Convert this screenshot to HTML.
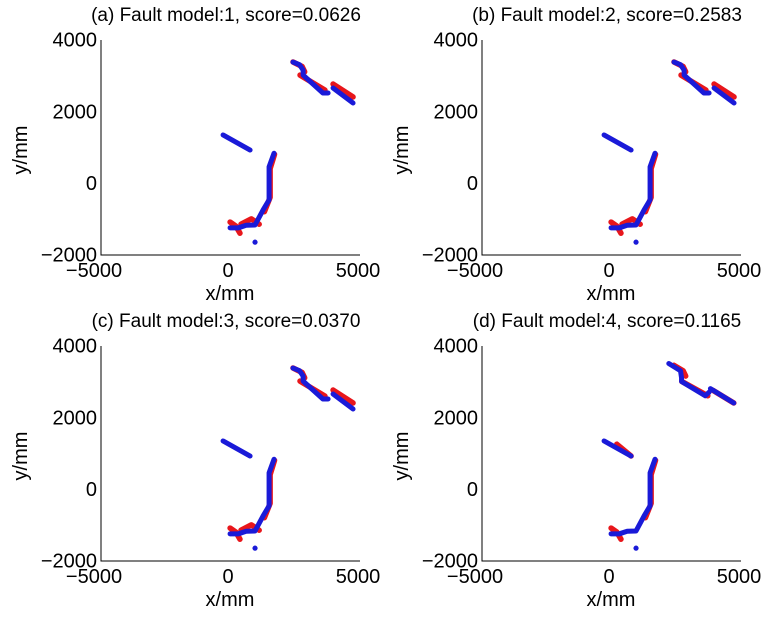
<!DOCTYPE html>
<html><head><meta charset="utf-8"><style>
body{margin:0;background:#fff}
svg{display:block;font-family:"Liberation Sans",sans-serif}
</style></head><body>
<svg id="fig" width="771" height="620" viewBox="0 0 771 620"></svg>
<script>
const panelTitles = ["(a) Fault model:1, score=0.0626","(b) Fault model:2, score=0.2583","(c) Fault model:3, score=0.0370","(d) Fault model:4, score=0.1165"];
const xTicks = [-5000, 0, 5000];
const xTickLabels = ["\u22125000","0","5000"];
const yTicks = [4000, 2000, 0, -2000];
const yTickLabels = ["4000","2000","0","\u22122000"];
// trajectories (x,y in mm)
const blueBase = [
 [[-190,1340],[850,920]],
 [[2500,3375],[2750,3300],[2890,3150],[2890,3010],[3650,2510],[3850,2510]],
 [[4040,2650],[4810,2230]],
 [[1770,830],[1580,450],[1580,-470],[1350,-750],[1040,-1170],[700,-1180],[400,-1250],[80,-1250]]
];
const redBase = [
 [[2500,3375],[2850,3250],[2950,3100]],
 [[2770,3010],[3730,2590]],
 [[4040,2760],[4810,2400]],
 [[1790,800],[1620,400],[1620,-400],[1400,-800]],
 [[80,-1090],[300,-1200],[460,-1400]],
 [[500,-1150],[900,-1000],[1200,-1150]]
];
const redD = [
 [[2500,3450],[2850,3300],[2950,3150]],
 [[2800,3000],[3800,2600]],
 [[4000,2750],[4800,2400]],
 [[1790,800],[1620,400],[1620,-400],[1400,-800]],
 [[80,-1090],[300,-1200],[460,-1400]],
 [[300,1250],[850,920]]
];
const blueD = [
 [[-190,1340],[850,920]],
 [[2300,3500],[2750,3300],[2790,3100],[2790,3000],[3700,2600],[3850,2700]],
 [[3900,2800],[4800,2400]],
 [[1770,830],[1580,450],[1580,-470],[1350,-750],[1040,-1170],[700,-1180],[400,-1250],[80,-1250]]
];
const blueDot = [1040,-1650];
const panelBlue = [blueBase, blueBase, blueBase, blueD];
const panelRed = [redBase, redBase, redBase, redD];

const NS="http://www.w3.org/2000/svg";
const fig=document.getElementById('fig');
function mk(tag,attrs,parent){const e=document.createElementNS(NS,tag);for(const k in attrs)e.setAttribute(k,attrs[k]);parent.appendChild(e);return e;}
const offs=[[0,0],[381,0],[0,306],[381,306]];
for(let p=0;p<4;p++){
 const [dx,dy]=offs[p];
 const g=mk('g',{transform:`translate(${dx},${dy})`},fig);
 
 
 const X=v=>228+v*0.026, Y=v=>183-v*0.03585;
 const L=101,R=360,T=40,B=255;
 const ax=mk('path',{d:`M${L},${T}V${B}H${R}`,stroke:'#000','stroke-width':1,fill:'none'},g);
 
 
 xTicks.forEach((t,i)=>{
  const tx=mk('text',{x:X(t)-(t<0?4:0),y:B+22,'font-size':20,'text-anchor':'middle'},g);
  tx.textContent=xTickLabels[i];
  
  
 });
 yTicks.forEach((t,i)=>{
  const tx=mk('text',{x:L-4,y:Y(t)+7,'font-size':20,'text-anchor':'end'},g);
  tx.textContent=yTickLabels[i];
  
  
 });
 const ti=mk('text',{x:226,y:21,'font-size':19,'text-anchor':'middle'},g);
 ti.textContent=panelTitles[p];
 
 
 const xl=mk('text',{x:230,y:300,'font-size':20,'text-anchor':'middle'},g);
 xl.textContent='x/mm';
 
 
 const yl=mk('text',{x:0,y:0,'font-size':20,'text-anchor':'middle',transform:'translate(27,150) rotate(-90)'},g);
 yl.textContent='y/mm';
 
 
 const draw=(segs,col,w,name)=>segs.forEach(s=>{
  const pl=mk('polyline',{points:s.map(q=>X(q[0])+','+Y(q[1])).join(' '),stroke:col,'stroke-width':w,fill:'none','stroke-linecap':'round','stroke-linejoin':'round'},g);
  
  
 });
 draw(panelRed[p],'#e8161b',5.5,'red-trajectory');
 draw(panelBlue[p],'#1a1ad8',5,'blue-trajectory');
 const d=mk('circle',{cx:X(blueDot[0]),cy:Y(blueDot[1]),r:2.6,fill:'#1a1ad8'},g);
 
 
}
</script>
</body></html>
